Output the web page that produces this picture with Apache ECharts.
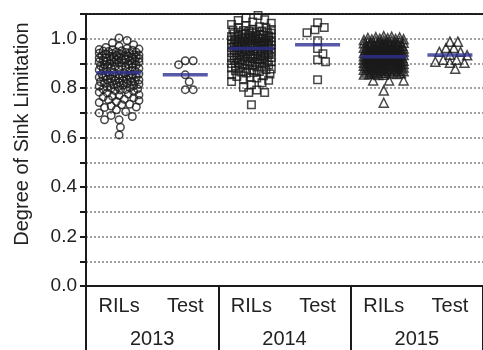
<!DOCTYPE html>
<html>
<head>
<meta charset="utf-8">
<script src="https://cdn.jsdelivr.net/npm/echarts@6/dist/echarts.min.js"></script>
<style>
html, body { margin: 0; padding: 0; background: #fff; }
#chart { width: 483px; height: 350px; }
</style>
</head>
<body>
<div id="chart"></div>
<script>
var groups = ['RILs', 'Test', 'RILs', 'Test', 'RILs', 'Test'];
var years = ['2013', '2014', '2015'];
var yLabels = ['0.0', '0.2', '0.4', '0.6', '0.8', '1.0'];

var rils2013 = [
  1.003, 0.993, 0.983, 0.976, 0.970, 0.965,
  0.960, 0.958, 0.956, 0.955, 0.953, 0.951, 0.950, 0.948, 0.947, 0.945, 0.944, 0.942, 0.941, 0.940,
  0.938, 0.937, 0.935, 0.934, 0.933, 0.931, 0.930, 0.929, 0.928, 0.926, 0.925, 0.924, 0.923, 0.922, 0.921, 0.920,
  0.918, 0.917, 0.915, 0.914, 0.912, 0.911, 0.910, 0.909, 0.907, 0.906, 0.905, 0.903, 0.902, 0.900,
  0.898, 0.896, 0.895, 0.893, 0.891, 0.890, 0.888, 0.887, 0.885, 0.884, 0.882, 0.880,
  0.878, 0.876, 0.874, 0.871, 0.869, 0.866, 0.864, 0.862,
  0.858, 0.857, 0.855, 0.854, 0.852, 0.851, 0.850, 0.848, 0.847, 0.845, 0.844, 0.843, 0.841, 0.840,
  0.838, 0.836, 0.835, 0.833, 0.831, 0.830, 0.828, 0.826, 0.825, 0.823, 0.821, 0.820,
  0.818, 0.816, 0.814, 0.812, 0.810, 0.808, 0.806, 0.804, 0.802, 0.800,
  0.797, 0.796, 0.795, 0.793, 0.790, 0.787, 0.784, 0.781,
  0.776, 0.773, 0.770, 0.767, 0.764, 0.761,
  0.755, 0.753, 0.750, 0.746, 0.742,
  0.735, 0.733, 0.728, 0.724, 0.722,
  0.713, 0.705, 0.700, 0.690, 0.685, 0.672, 0.672, 0.642, 0.611
];
var test2013 = [0.911, 0.911, 0.895, 0.854, 0.826, 0.794, 0.794];

var rils2014 = [
  1.107, 1.094, 1.084, 1.077, 1.074, 1.068, 1.063, 1.058, 1.053, 1.048, 1.045, 1.043,
  1.038, 1.037, 1.035, 1.033, 1.031, 1.030, 1.028, 1.026, 1.025, 1.023, 1.022, 1.020,
  1.019, 1.018, 1.016, 1.015, 1.014, 1.012, 1.011, 1.010, 1.009, 1.007, 1.006, 1.005, 1.004, 1.002, 1.001, 1.000,
  0.999, 0.998, 0.997, 0.995, 0.994, 0.993, 0.991, 0.990, 0.989, 0.988, 0.987, 0.985, 0.984, 0.983, 0.982, 0.981, 0.980, 0.980,
  0.979, 0.978, 0.977, 0.976, 0.975, 0.974, 0.973, 0.972, 0.971, 0.970, 0.969, 0.968, 0.967, 0.966, 0.965, 0.964, 0.963,
  0.961, 0.960, 0.958, 0.957, 0.955, 0.954, 0.952, 0.951, 0.950, 0.948, 0.947, 0.945, 0.944, 0.943, 0.941, 0.940,
  0.938, 0.937, 0.935, 0.934, 0.932, 0.931, 0.930, 0.928, 0.927, 0.925, 0.924, 0.923, 0.922, 0.921, 0.920,
  0.918, 0.916, 0.915, 0.913, 0.912, 0.910, 0.908, 0.907, 0.905, 0.904, 0.903, 0.901, 0.900,
  0.898, 0.896, 0.894, 0.892, 0.890, 0.888, 0.886, 0.884, 0.882, 0.880,
  0.878, 0.875, 0.872, 0.870, 0.867, 0.865, 0.863, 0.861,
  0.857, 0.854, 0.850, 0.847, 0.844, 0.841,
  0.837, 0.832, 0.827, 0.822, 0.814, 0.804, 0.793, 0.783, 0.783, 0.733
];
var test2014 = [1.065, 1.045, 1.036, 1.024, 0.992, 0.960, 0.939, 0.915, 0.907, 0.834];

var rils2015 = [
  1.010, 1.008, 1.006, 1.005, 1.003, 1.002, 1.000, 0.999, 0.998, 0.997, 0.995, 0.994, 0.992, 0.991,
  0.989, 0.988, 0.987, 0.986, 0.985, 0.984, 0.983, 0.982, 0.981, 0.980, 0.979, 0.978, 0.977, 0.976, 0.975, 0.974, 0.973, 0.972, 0.971, 0.970,
  0.969, 0.968, 0.967, 0.966, 0.965, 0.964, 0.964, 0.963, 0.962, 0.961, 0.960, 0.959, 0.958, 0.958, 0.957, 0.956, 0.955, 0.954, 0.953, 0.953, 0.952, 0.951, 0.950, 0.950,
  0.949, 0.948, 0.947, 0.947, 0.946, 0.945, 0.944, 0.943, 0.942, 0.942, 0.941, 0.940, 0.939, 0.938, 0.937, 0.937, 0.936, 0.935, 0.934, 0.933, 0.932, 0.932, 0.931, 0.930, 0.930, 0.929,
  0.928, 0.927, 0.926, 0.925, 0.924, 0.923, 0.923, 0.922, 0.921, 0.920, 0.919, 0.918, 0.918, 0.917, 0.916, 0.915, 0.914, 0.913, 0.913, 0.912, 0.911, 0.910, 0.910, 0.909, 0.908, 0.907,
  0.906, 0.905, 0.904, 0.903, 0.902, 0.901, 0.900, 0.900, 0.899, 0.898, 0.897, 0.896, 0.895, 0.894, 0.893, 0.893, 0.892, 0.891, 0.890, 0.890, 0.889, 0.888, 0.887, 0.886,
  0.885, 0.884, 0.883, 0.882, 0.881, 0.880, 0.879, 0.878, 0.877, 0.876, 0.875, 0.874, 0.873, 0.872, 0.871, 0.870, 0.869, 0.868, 0.867, 0.866,
  0.864, 0.863, 0.862, 0.861, 0.860, 0.859, 0.858, 0.857, 0.856, 0.855, 0.854, 0.853,
  0.831, 0.831, 0.831, 0.791, 0.741
];
var test2015 = [0.988, 0.988, 0.962, 0.962, 0.947, 0.947, 0.935, 0.933, 0.915, 0.915, 0.907, 0.903, 0.903, 0.879];

var GRID_W = 407, GRID_H = 272, Y_MAX = 1.1;
var PX_X = GRID_W / 6, PX_Y = GRID_H / Y_MAX;

// spread points sideways so they overlap as little as possible (beeswarm)
function swarm(values, center, size) {
  var sorted = values.slice().sort(function (a, b) { return b - a; });
  var placed = [];
  var half = 0.31, step = 0.02;
  var cands = [0];
  for (var k = 1; k * step <= half + 1e-9; k++) cands.push(k * step, -k * step);
  sorted.forEach(function (v) {
    var best = center, bestD = -1;
    for (var c = 0; c < cands.length; c++) {
      var x = center + cands[c];
      var minD = Infinity;
      for (var p = 0; p < placed.length; p++) {
        var dx = (placed[p][0] - x) * PX_X, dy = (placed[p][1] - v) * PX_Y;
        var d = Math.sqrt(dx * dx + dy * dy);
        if (d < minD) minD = d;
      }
      if (minD >= size) { best = x; break; }
      if (minD > bestD) { bestD = minD; best = x; }
    }
    placed.push([best, v]);
  });
  return placed;
}

function median(arr) {
  var s = arr.slice().sort(function (a, b) { return a - b; });
  var m = Math.floor(s.length / 2);
  return s.length % 2 ? s[m] : (s[m - 1] + s[m]) / 2;
}

var sets = [rils2013, test2013, rils2014, test2014, rils2015, test2015];
var symbols = ['circle', 'circle', 'rect', 'rect', 'triangle', 'triangle'];
var sizes = [7.5, 7.5, 7.5, 7.5, 9, 9];

var FONT = 'Liberation Sans, Arial, Helvetica, sans-serif';
var series = sets.map(function (vals, i) {
  return {
    type: 'scatter',
    xAxisIndex: 2,
    symbol: symbols[i],
    symbolSize: sizes[i],
    itemStyle: { color: 'rgba(0,0,0,0)', borderColor: '#1a1a1a', borderWidth: 1.5 },
    data: swarm(vals, i + 0.5, 7.5),
    z: 2
  };
});
series.push({
  type: 'scatter',
  xAxisIndex: 2,
  symbol: 'rect',
  symbolSize: [45, 3.5],
  itemStyle: { color: '#2e3192' },
  data: sets.map(function (vals, i) { return [i + 0.5, median(vals)]; }),
  z: 4
});

var chart = echarts.init(document.getElementById('chart'));
chart.setOption({
  animation: false,
  backgroundColor: '#fff',
  grid: { left: 86, top: 14, width: GRID_W, height: GRID_H },
  xAxis: [
    {
      type: 'category', data: groups, position: 'bottom',
      axisLine: { lineStyle: { color: '#1a1a1a', width: 2 } },
      axisTick: { alignWithLabel: true, length: 7, lineStyle: { color: '#1a1a1a', width: 2 } },
      axisLabel: { margin: 10, color: '#222', fontSize: 20, fontFamily: FONT },
      splitLine: { show: false }
    },
    {
      type: 'category', data: years, position: 'bottom',
      axisLine: { show: false },
      axisTick: { show: true, interval: 0, length: 64, lineStyle: { color: '#1a1a1a', width: 2 } },
      axisLabel: { margin: 43, color: '#222', fontSize: 20, fontFamily: FONT },
      splitLine: { show: false }
    },
    {
      type: 'value', min: 0, max: 6, position: 'top',
      axisLine: { show: true, lineStyle: { color: '#1a1a1a', width: 2, type: [2, 1.5] } },
      axisTick: { show: false }, axisLabel: { show: false }, splitLine: { show: false }
    }
  ],
  yAxis: {
    type: 'value', min: 0, max: Y_MAX, interval: 0.1,
    axisLine: { show: true, lineStyle: { color: '#1a1a1a', width: 2 } },
    axisTick: { show: true, length: 6, lineStyle: { color: '#1a1a1a', width: 2 } },
    axisLabel: {
      margin: 9, color: '#222', fontSize: 19, fontFamily: FONT,
      formatter: function (v) {
        var t = v.toFixed(1);
        return yLabels.indexOf(t) >= 0 ? t : '';
      }
    },
    splitLine: { show: true, lineStyle: { color: '#a0a0a0', width: 2, type: [2, 2] } }
  },
  graphic: [{
    type: 'text', x: 22, y: 134, rotation: Math.PI / 2,
    style: {
      text: 'Degree of Sink Limitation', fill: '#222',
      font: '20px ' + FONT, textAlign: 'center', textVerticalAlign: 'middle'
    }
  }],
  series: series
});
</script>
</body>
</html>
